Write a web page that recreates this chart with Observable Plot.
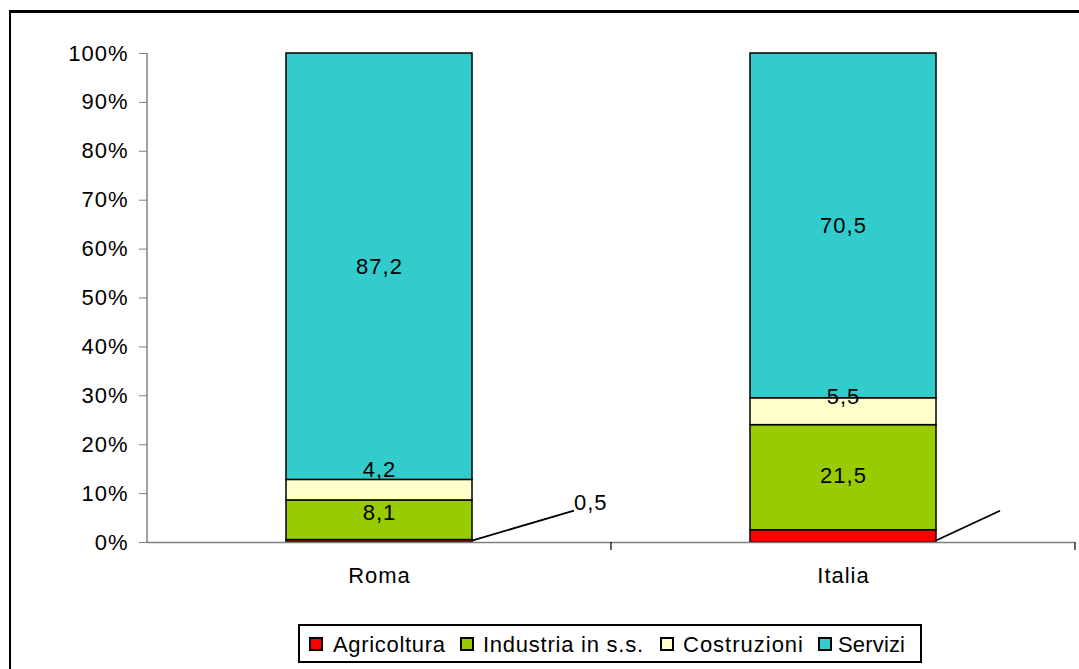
<!DOCTYPE html>
<html>
<head>
<meta charset="utf-8">
<script src="https://cdn.jsdelivr.net/npm/d3@7"></script>
<script src="https://cdn.jsdelivr.net/npm/@observablehq/plot@0.6"></script>
<style>
  html, body { margin: 0; padding: 0; background: #fff; }
  body { width: 1079px; height: 669px; overflow: hidden; position: relative; font-family: "Liberation Sans", Arial, sans-serif; }
  #frame { position: absolute; left: 9px; top: 10px; width: 1200px; height: 800px; border-top: 3px solid #000; border-left: 2px solid #000; }
  #chart { position: absolute; left: 0; top: 0; }
  #chart svg text { letter-spacing: 1px; }
  #legend { position: absolute; left: 298px; top: 624px; }
</style>
</head>
<body>
<div id="frame"></div>
<div id="chart"></div>
<div id="legend"></div>
<script>
// ---- data ----
const categories = ["Roma", "Italia"];
const sectors = ["Agricoltura", "Industria in s.s.", "Costruzioni", "Servizi"];
const romaValues = [0.5, 8.1, 4.2, 87.2];
const italiaValues = [2.5, 21.5, 5.5, 70.5];
const sectorColors = ["#FF0000", "#99CC00", "#FFFFCC", "#33CCCC"];
const yTicks = [0, 10, 20, 30, 40, 50, 60, 70, 80, 90, 100];
const tickLabels = ["0%", "10%", "20%", "30%", "40%", "50%", "60%", "70%", "80%", "90%", "100%"];

// ---- layout ----
const W = 1079, H = 600;
const FS = 22;
const labelNudge = {"Roma|Industria in s.s.": 1.4, "Roma|Costruzioni": 4.1, "Italia|Costruzioni": 3.1, "Italia|Industria in s.s.": 0.4};
const leaderDx = {Roma: 102, Italia: 64};
const leaderStartY = 0.3, leaderEndY = 6.4;
// legend layout (page x of swatch, text start, text width)
const legendSwatchX = [309, 460, 660, 818];
const legendTextX = [333, 483, 683, 838];
const legendTextW = [112, 160, 120, 67];

const valuesByCat = {Roma: romaValues, Italia: italiaValues};
const rows = categories.flatMap(cat => sectors.map((s, i) => ({cat, sector: s, value: valuesByCat[cat][i]})));
const fmt = v => v.toFixed(1).replace(".", ",");

const labelRows = [];
for (const cat of categories) {
  let base = 0;
  valuesByCat[cat].forEach((v, i) => {
    if (i > 0) labelRows.push({cat, y: base + v / 2 + (labelNudge[cat + "|" + sectors[i]] || 0), text: fmt(v)});
    base += v;
  });
}

const extras = (index, scales, values, dims) => {
  const sx = scales.x, sy = scales.y;
  const bw = typeof sx.bandwidth === "function" ? sx.bandwidth() : sx.bandwidth;
  const step = typeof sx.step === "function" ? sx.step() : sx.step;
  const g = d3.create("svg:g");
  g.append("line").attr("x1", dims.marginLeft).attr("x2", dims.marginLeft)
    .attr("y1", sy(100)).attr("y2", sy(0)).attr("stroke", "#808080").attr("stroke-width", 1.5);
  for (const cat of categories) {
    const xb = sx(cat) + bw + (step - bw) / 2;
    g.append("line").attr("x1", xb).attr("x2", xb).attr("y1", sy(0)).attr("y2", sy(0) + 8)
      .attr("stroke", "#000").attr("stroke-width", 1.2);
  }
  for (const cat of categories) {
    const x0 = sx(cat) + bw, y0 = sy(leaderStartY);
    const x1 = x0 + leaderDx[cat], y1 = sy(leaderEndY);
    g.append("line").attr("x1", x0).attr("y1", y0).attr("x2", x1).attr("y2", y1)
      .attr("stroke", "#000").attr("stroke-width", 1.8);
    if (cat === "Roma") {
      g.append("text").attr("x", x1).attr("y", y1 - 1).attr("font-size", FS)
        .attr("text-anchor", "start").attr("fill", "#000").text(fmt(valuesByCat[cat][0]));
    }
  }
  return g.node();
};

const plot = Plot.plot({
  width: W,
  height: H,
  marginTop: 53,
  marginBottom: 58,
  marginLeft: 147,
  marginRight: 4,
  style: {fontFamily: "'Liberation Sans', Arial, sans-serif", fontSize: FS + "px", color: "#000", background: "transparent", overflow: "visible"},
  x: {domain: categories, paddingInner: 0.6, paddingOuter: 0.3, label: null},
  y: {domain: [0, 100], label: null},
  color: {domain: sectors, range: sectorColors},
  marks: [
    Plot.barY(rows, Plot.stackY({x: "cat", y: "value", fill: "sector", stroke: "#000", strokeWidth: 1.5})),
    Plot.ruleY([0], {stroke: "#808080", strokeWidth: 1.5}),
    Plot.axisY({ticks: yTicks, tickFormat: d => tickLabels[yTicks.indexOf(d)], tickSize: 8, tickPadding: 11, stroke: "#808080", fontSize: FS, label: null}),
    Plot.axisX({tickSize: 0, tickPadding: 25, fontSize: FS, label: null}),
    Plot.text(labelRows, {x: "cat", y: "y", text: "text", fontSize: FS, fill: "#000"}),
    extras
  ]
});
document.getElementById("chart").appendChild(plot);

// legend (SVG, colours from the plot's colour scale)
const color = plot.scale("color");
const L0 = 298;
const lsvg = d3.select("#legend").append("svg").attr("width", 630).attr("height", 42);
lsvg.append("rect").attr("x", 1).attr("y", 1).attr("width", 622).attr("height", 37)
  .attr("fill", "#fff").attr("stroke", "#000").attr("stroke-width", 2);
sectors.forEach((s, i) => {
  lsvg.append("rect").attr("x", legendSwatchX[i] - L0 + 1).attr("y", 14).attr("width", 12).attr("height", 12)
    .attr("fill", color.apply(s)).attr("stroke", "#000").attr("stroke-width", 2);
  lsvg.append("text").attr("x", legendTextX[i] - L0).attr("y", 28)
    .attr("font-family", "'Liberation Sans', Arial, sans-serif").attr("font-size", FS)
    .attr("textLength", legendTextW[i]).attr("lengthAdjust", "spacing")
    .attr("fill", "#000").text(s);
});
</script>
</body>
</html>
